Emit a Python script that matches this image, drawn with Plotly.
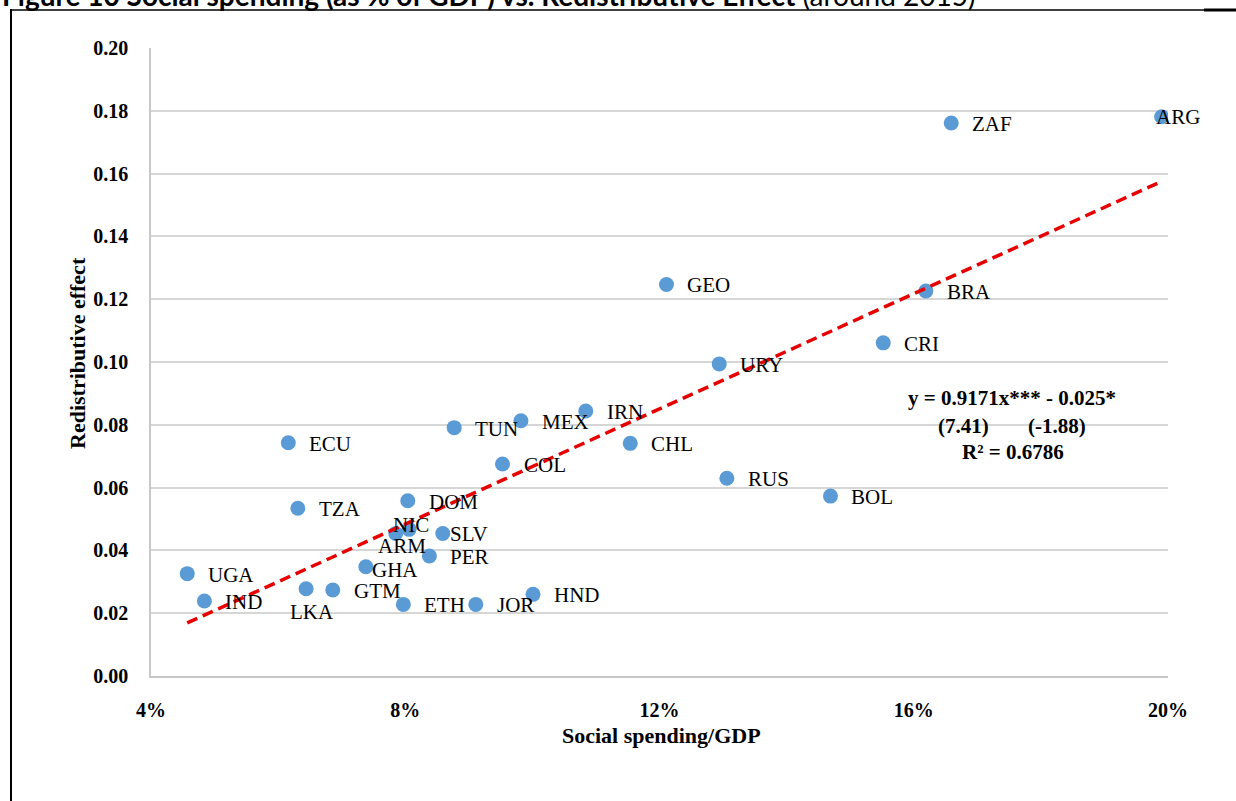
import plotly.graph_objects as go

# ---------------- data ----------------
countries = ["UGA", "IND", "LKA", "GTM", "GHA", "ARM", "NIC", "DOM", "SLV", "PER",
             "ETH", "JOR", "HND", "TZA", "ECU", "TUN", "MEX", "COL", "IRN", "CHL",
             "GEO", "URY", "RUS", "BOL", "CRI", "BRA", "ZAF", "ARG"]
social_spending = [0.0457, 0.0484, 0.0644, 0.0686, 0.0738, 0.0785, 0.0806, 0.0804, 0.0859, 0.0838,
                   0.0797, 0.0911, 0.1001, 0.0631, 0.0616, 0.0877, 0.0982, 0.0953, 0.1084, 0.1154,
                   0.1211, 0.1294, 0.1306, 0.1469, 0.1552, 0.1619, 0.1659, 0.1990]
redistributive_effect = [0.0326, 0.0239, 0.0278, 0.0274, 0.0348, 0.0454, 0.0467, 0.0558, 0.0454, 0.0382,
                         0.0228, 0.0228, 0.0260, 0.0534, 0.0743, 0.0791, 0.0813, 0.0675, 0.0844, 0.0741,
                         0.1247, 0.0994, 0.0630, 0.0573, 0.1061, 0.1226, 0.1761, 0.1781]
trend_slope = 0.9171
trend_intercept = -0.025
equation_lines = ["y = 0.9171x*** - 0.025*", "(7.41)", "(-1.88)", "R² = 0.6786"]
x_ticks = [0.04, 0.08, 0.12, 0.16, 0.20]
y_ticks = [0.00, 0.02, 0.04, 0.06, 0.08, 0.10, 0.12, 0.14, 0.16, 0.18, 0.20]

# ---------------- label placement (style) ----------------
# (xanchor, xshift, yshift) per country, pixels relative to the marker
label_pos = {
    "LKA": ("center", 6, -23), "GHA": ("left", 4, -3), "ARM": ("center", 6, -13),
    "NIC": ("center", 2, 4), "SLV": ("left", 5, -1), "ARG": ("left", -8, 0),
}
default_pos = ("left", 19, -1)

# ---------------- layout geometry ----------------
W, H = 1236, 801
ML, MR, MT, MB = 151, 68, 48, 125
PW, PH = W - ML - MR, H - MT - MB


def px(xp):
    return (xp - ML) / PW


def py(yp):
    return (MT + PH - yp) / PH


SERIF = "Liberation Serif, Times New Roman, serif"
fig = go.Figure()

fig.add_trace(go.Scatter(
    x=social_spending, y=redistributive_effect, mode="markers",
    marker=dict(size=15, color="#5B9BD5", line=dict(width=0)),
    showlegend=False, hoverinfo="text", text=countries,
))

x_lo, x_hi = min(social_spending), max(social_spending)
fig.add_trace(go.Scatter(
    x=[x_lo, x_hi],
    y=[trend_slope * x_lo + trend_intercept, trend_slope * x_hi + trend_intercept],
    mode="lines", line=dict(color="#E60000", width=3.5, dash="11px,6px"),
    showlegend=False, hoverinfo="skip",
))

annotations = []
for c, xv, yv in zip(countries, social_spending, redistributive_effect):
    anchor, xs, ys = label_pos.get(c, default_pos)
    annotations.append(dict(
        x=xv, y=yv, xref="x", yref="y", text=c, showarrow=False,
        xanchor=anchor, yanchor="middle", xshift=xs, yshift=ys,
        font=dict(family=SERIF, size=21, color="#000000"),
    ))

eq_font = dict(family=SERIF, size=21, color="#000000")
annotations += [
    dict(x=px(1012), y=py(398), xref="paper", yref="paper", text="<b>%s</b>" % equation_lines[0],
         showarrow=False, xanchor="center", yanchor="middle", font=eq_font),
    dict(x=px(963), y=py(426), xref="paper", yref="paper", text="<b>%s</b>" % equation_lines[1],
         showarrow=False, xanchor="center", yanchor="middle", font=eq_font),
    dict(x=px(1057), y=py(426), xref="paper", yref="paper", text="<b>%s</b>" % equation_lines[2],
         showarrow=False, xanchor="center", yanchor="middle", font=eq_font),
    dict(x=px(1013), y=py(452), xref="paper", yref="paper", text="<b>%s</b>" % equation_lines[3],
         showarrow=False, xanchor="center", yanchor="middle", font=eq_font),
    # axis titles
    dict(x=px(661), y=py(735), xref="paper", yref="paper", text="<b>Social spending/GDP</b>",
         showarrow=False, xanchor="center", yanchor="middle",
         font=dict(family=SERIF, size=22, color="#000000")),
    dict(x=px(78), y=py(353), xref="paper", yref="paper", text="<b>Redistributive effect</b>",
         showarrow=False, xanchor="center", yanchor="middle", textangle=-90,
         font=dict(family=SERIF, size=22, color="#000000")),
    # cut-off page caption above the frame
    dict(x=px(0), y=py(14), xref="paper", yref="paper",
         text="<b>Figure 10 Social spending (as % of GDP) vs. Redistributive Effect</b> (around 2015)",
         showarrow=False, xanchor="left", yanchor="bottom",
         font=dict(family="Lato, Carlito, sans-serif", size=28, color="#000000")),
]

shapes = [
    dict(type="line", xref="paper", yref="paper", x0=px(11), x1=px(11), y0=py(9), y1=py(805),
         line=dict(color="#000000", width=2)),
    dict(type="line", xref="paper", yref="paper", x0=px(10), x1=px(1204), y0=py(10), y1=py(10),
         line=dict(color="#000000", width=1.5)),
    dict(type="line", xref="paper", yref="paper", x0=px(1204), x1=px(1240), y0=py(10), y1=py(10),
         line=dict(color="#000000", width=3)),
]

fig.update_layout(
    width=W, height=H, autosize=False,
    margin=dict(l=ML, r=MR, t=MT, b=MB, pad=0),
    paper_bgcolor="white", plot_bgcolor="white",
    annotations=annotations, shapes=shapes,
    xaxis=dict(range=[0.04, 0.20], tickvals=x_ticks, tickformat=".0%",
               showgrid=False, zeroline=False, showline=True, linecolor="#C8C8C8", linewidth=1.5,
               ticks="outside", ticklen=15, tickcolor="rgba(0,0,0,0)",
               tickfont=dict(family=SERIF, size=20, color="#000000", weight="bold")),
    yaxis=dict(range=[0, 0.20], tickvals=y_ticks, tickformat=".2f",
               showgrid=True, gridcolor="#D6D6D6", gridwidth=1.5, zeroline=False,
               showline=True, linecolor="#C8C8C8", linewidth=1.5,
               ticks="outside", ticklen=17, tickcolor="rgba(0,0,0,0)",
               tickfont=dict(family=SERIF, size=20, color="#000000", weight="bold")),
    showlegend=False,
)

fig.write_html("out.html", config={"displayModeBar": False},
               post_script="document.body.style.margin='0';document.body.style.overflow='hidden';")
